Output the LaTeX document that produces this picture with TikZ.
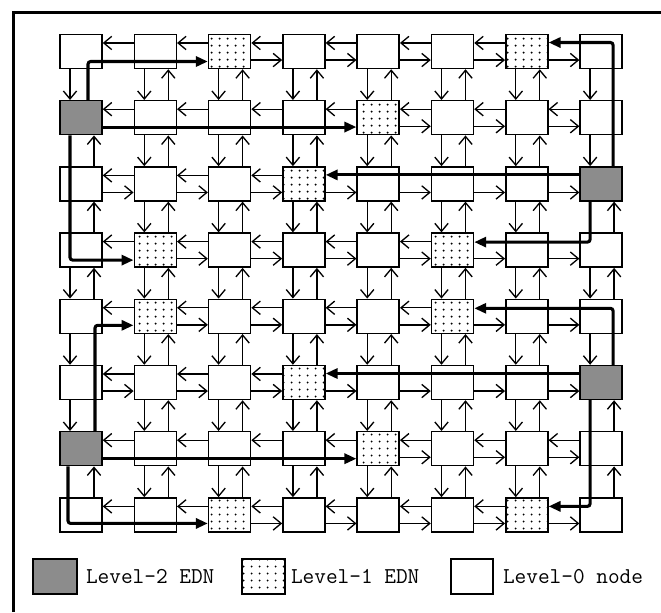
\documentclass[tikz,border=0pt]{standalone}
\usepackage{tikz}
\usetikzlibrary{positioning,arrows.meta,patterns}

% sparse dots for the level-1 EDNs
\pgfdeclarepatternformonly{sparse dots}{\pgfpointorigin}{\pgfqpoint{6pt}{5.5pt}}{\pgfqpoint{6pt}{5.5pt}}{%
  \pgfpathcircle{\pgfqpoint{3pt}{2.75pt}}{0.85pt}\pgfusepath{fill}}

% node kinds (row, column)
\foreach \n in {10,27,57,60}{\expandafter\gdef\csname edn\n\endcsname{lvtwo}}
\foreach \n in {02,06,14,23,31,35,41,45,53,64,72,76}{\expandafter\gdef\csname edn\n\endcsname{lvone}}
% mesh links hidden under the EDN routes
\foreach \e in {R00,R01,R10,R11,R12,R13,R30,R40,R60,R61,R62,R63,R70,R71,
                L06,L23,L24,L25,L26,L35,L36,L45,L46,L53,L54,L55,L56,L76,
                D10,D20,D60,D27,D57,D67,U00,U40,U50,U07,U17,U47}{\expandafter\gdef\csname skip\e\endcsname{}}

\begin{document}
\begin{tikzpicture}[
  x=0.75pt, y=-0.75pt,
  cell/.style={draw,line width=1.1pt,fill=white,minimum width=31.5pt,minimum height=25.5pt,inner sep=0pt},
  lvtwo/.style={cell,fill=black!45},
  lvone/.style={cell,preaction={fill=white},pattern=sparse dots},
  link/.style={-{Straight Barb[length=6pt,width=10pt]},line width=1pt},
  route/.style={-{Triangle[length=9pt,width=7.5pt]},line width=2.3pt,rounded corners=2pt},
  legend/.style={font=\ttfamily\fontsize{17}{20}\selectfont,inner sep=0pt,anchor=west},
]
\useasboundingbox (0,0) rectangle (661,612);
% frame
\draw[line width=2pt] (13.5,612) |- (661,12.5);
% grid of nodes
\foreach \r in {0,...,7}{
  \foreach \c in {0,...,7}{
    \ifcsname edn\r\c\endcsname \edef\kind{\csname edn\r\c\endcsname}\else \def\kind{cell}\fi
    \node[\kind] (n\r\c) at ({81+74.3*\c},{51.5+66.2*\r}) {};
  }
}
% horizontal links
\foreach \r in {0,...,7}{
  \foreach \c [evaluate=\c as \d using int(\c+1)] in {0,...,6}{
    \ifcsname skipL\r\c\endcsname\else \draw[link] ([yshift=6.4pt]n\r\d.west) -- ([yshift=6.4pt]n\r\c.east);\fi
    \ifcsname skipR\r\c\endcsname\else \draw[link] ([yshift=-6.4pt]n\r\c.east) -- ([yshift=-6.4pt]n\r\d.west);\fi
  }
}
% vertical links
\foreach \r [evaluate=\r as \s using int(\r+1)] in {0,...,6}{
  \foreach \c in {0,...,7}{
    \ifcsname skipD\r\c\endcsname\else \draw[link] ([xshift=-8.25pt]n\r\c.south) -- ([xshift=-8.25pt]n\s\c.north);\fi
    \ifcsname skipU\r\c\endcsname\else \draw[link] ([xshift=9.75pt]n\s\c.north) -- ([xshift=9.75pt]n\r\c.south);\fi
  }
}
% routes from the level-2 EDNs
\draw[route] ([xshift=5.25pt]n10.north) |- ([yshift=-7.5pt]n02.west);
\draw[route] ([yshift=-7pt]n10.east) -- ([yshift=-7pt]n14.west);
\draw[route] ([xshift=-8.25pt]n10.south) |- ([yshift=-7.5pt]n31.west);
\draw[route] ([xshift=10.5pt]n60.north) |- ([yshift=-6.75pt]n41.west);
\draw[route] ([yshift=-7.5pt]n60.east) -- ([yshift=-7.5pt]n64.west);
\draw[route] ([xshift=-9.75pt]n60.south) |- ([yshift=-6.4pt]n72.west);
\draw[route] ([xshift=9pt]n27.north) |- ([yshift=6.75pt]n06.east);
\draw[route] ([yshift=6.75pt]n27.west) -- ([yshift=6.75pt]n23.east);
\draw[route] ([xshift=-8.25pt]n27.south) |- ([yshift=6pt]n35.east);
\draw[route] ([xshift=9pt]n57.north) |- ([yshift=6pt]n45.east);
\draw[route] ([yshift=6.75pt]n57.west) -- ([yshift=6.75pt]n53.east);
\draw[route] ([xshift=-8.25pt]n57.south) |- ([yshift=6.4pt]n76.east);
% legend
\node[lvtwo,minimum width=33pt,minimum height=26.25pt] (k2) at (55,576.5) {};
\node[legend,right=6pt of k2] (t2) {Level-2 EDN};
\node[lvone,minimum width=32.25pt,minimum height=26.25pt] (k1) at (263.5,576.5) {};
\node[legend,right=3.75pt of k1] (t1) {Level-1 EDN};
\node[cell,minimum width=31.5pt,minimum height=26.25pt] (k0) at (472,576.5) {};
\node[legend,right=6.75pt of k0] (t0) {Level-0 node};
\end{tikzpicture}
\end{document}
